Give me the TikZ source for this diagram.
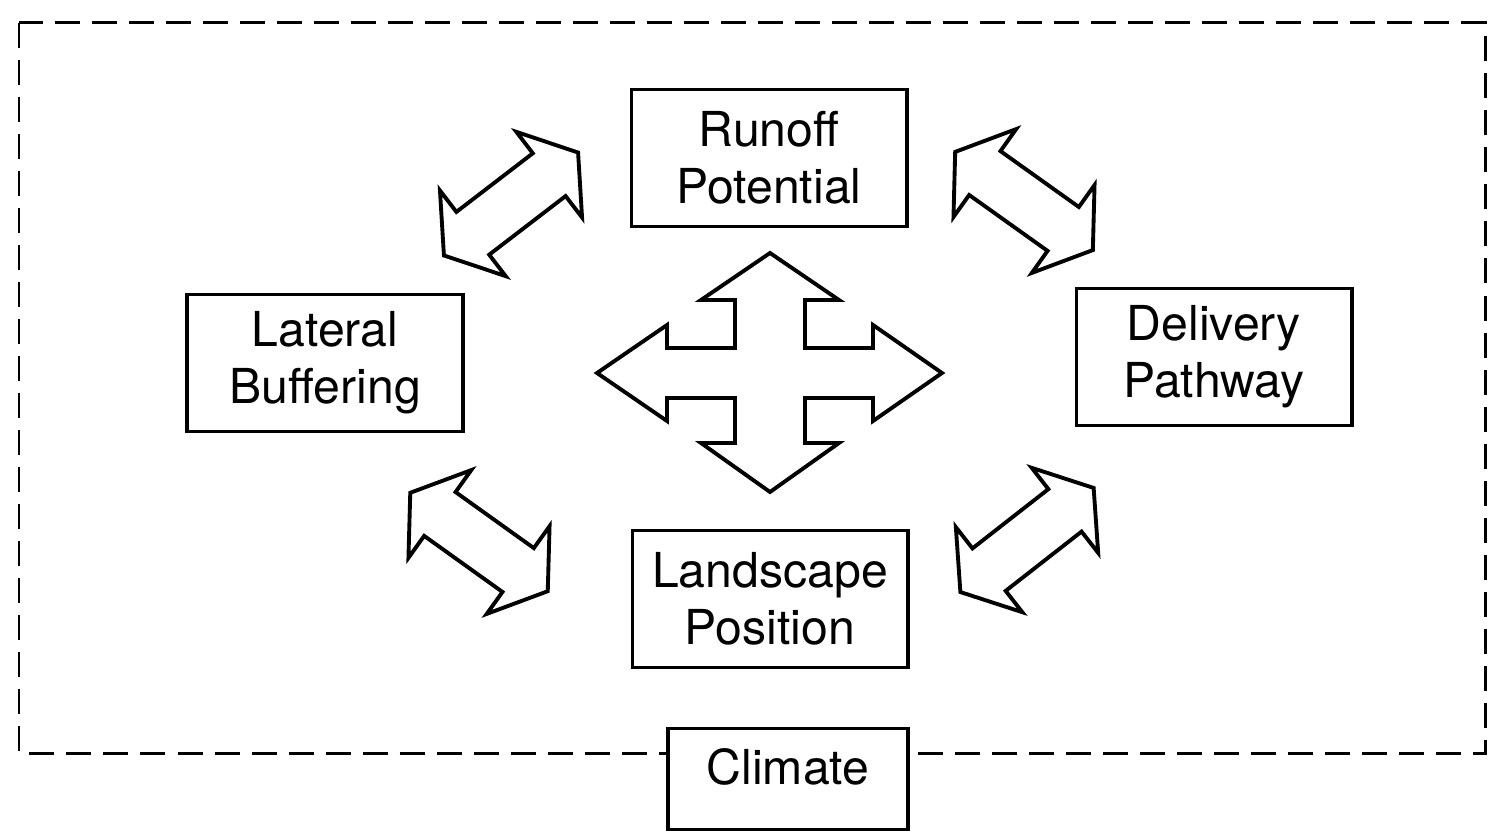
\documentclass[tikz,border=0pt]{standalone}
\usepackage{fontspec}
\setmainfont{TeX Gyre Heros}
\usetikzlibrary{shapes.arrows}

\begin{document}
\begin{tikzpicture}[x=0.01cm,y=-0.01cm,
  factor/.style={draw,line width=1.1pt,fill=white,align=center,inner sep=0pt,
    minimum width=2.75cm,minimum height=1.37cm,
    font=\fontsize{13.7pt}{16.3pt}\selectfont},
  link/.style={double arrow,draw,line width=1.1pt,fill=white,inner sep=0.25cm,
    minimum height=1.69cm,double arrow head extend=0.27cm,double arrow tip angle=112},
  frame/.style={line width=0.85pt,dash pattern=on 0.25cm off 0.12cm}]
\useasboundingbox (0,0) rectangle (1495,834);
\draw[frame] (19,23) rectangle (1485,753);
\node[factor] (runoff) at (769,158) {Runoff\\Potential};
\node[factor] (lateral) at (325,363) {Lateral\\Buffering};
\node[factor] (delivery) at (1214,357) {Delivery\\Pathway};
\node[factor] (landscape) at (770,599) {Landscape\\Position};
\node[factor,minimum width=2.4cm,minimum height=1.01cm,text depth=0.24cm] (climate) at (788,779) {Climate};
\node[link,rotate=37.5] (lr) at (511,204) {};
\node[link,rotate=-35.5] (rd) at (1024,201) {};
\node[link,rotate=-35.6] (ll) at (479,542) {};
\node[link,rotate=38] (ld) at (1027,540) {};
\coordinate (hub) at (770,373);
\draw[line width=1.1pt,fill=white,shift={(hub)}]
  (0,-120) -- (69,-73) -- (35,-73) -- (35,-25) -- (103,-25) -- (103,-48) -- (172,0)
  -- (103,48) -- (103,25) -- (35,25) -- (35,70) -- (69,70) -- (0,119)
  -- (-69,70) -- (-35,70) -- (-35,25) -- (-103,25) -- (-103,48) -- (-173,0)
  -- (-103,-48) -- (-103,-25) -- (-35,-25) -- (-35,-73) -- (-69,-73) -- cycle;
\end{tikzpicture}
\end{document}
